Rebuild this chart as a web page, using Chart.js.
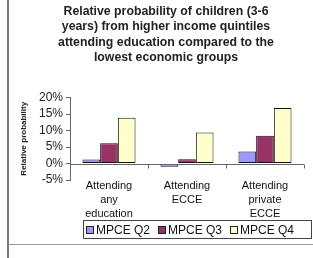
<!DOCTYPE html>
<html><head><meta charset="utf-8">
<script src="https://cdn.jsdelivr.net/npm/chart.js@4"></script>
<style>
html,body{margin:0;padding:0;background:#fff;}
#wrap{position:relative;width:313px;height:258px;overflow:hidden;}
#vl{position:absolute;left:7px;top:0;width:2px;height:258px;background:#7a7a7a;}
#hl{position:absolute;left:9px;top:244px;width:304px;height:1px;background:#999;}
#c{position:absolute;left:0;top:0;}
#legend{position:absolute;left:83px;top:220px;width:229px;height:19px;border:1px solid #444;
  display:flex;align-items:center;font-family:"Liberation Sans",Arial,sans-serif;font-size:12px;color:#111;box-sizing:border-box;padding-left:2px;}
#legend .it{display:flex;align-items:center;margin-right:8px;white-space:nowrap;}
#legend .sw{width:6px;height:6px;border:1px solid #222;margin-right:2px;}
</style></head>
<body>
<div id="wrap">
<canvas id="c" width="313" height="258"></canvas>
<div id="vl"></div><div id="hl"></div>
<div id="legend"></div>
</div>
<script>
const titleLines = ["Relative probability of children (3-6", "years) from higher income quintiles", "attending education compared to the", "lowest economic groups"];
const categories = [["Attending","any","education"],["Attending","ECCE"],["Attending","private","ECCE"]];
const seriesNames = ["MPCE Q2","MPCE Q3","MPCE Q4"];
const seriesColors = ["#9999FF","#993366","#FFFFCC"];
const q2 = [1.2, -1.0, 3.6];
const q3 = [6.1, 1.3, 8.4];
const q4 = [13.9, 9.4, 16.8];
const yTicks = [-5, 0, 5, 10, 15, 20];
const yTitle = "Relative probability";

const values = [q2, q3, q4];
const FONT = "'Liberation Sans', Arial, sans-serif";

const axisPlugin = {
  id: 'axisPlugin',
  afterDatasetsDraw(chart) {
    const x = chart.scales.x, y = chart.scales.y, ctx = chart.ctx;
    const y0 = Math.round(y.getPixelForValue(0)) + 0.5;
    ctx.save();
    ctx.strokeStyle = '#666';
    ctx.lineWidth = 1;
    ctx.beginPath();
    ctx.moveTo(x.left, y0); ctx.lineTo(x.right, y0);
    const n = categories.length;
    const w = (x.right - x.left) / n;
    for (let i = 1; i <= n; i++) {
      const xb = Math.round(x.getPixelForValue(i - 1) + w / 2) + 0.5;
      ctx.moveTo(xb, y0); ctx.lineTo(xb, y0 + 4);
    }
    ctx.stroke();
    ctx.restore();
  }
};

new Chart(document.getElementById('c'), {
  type: 'bar',
  data: {
    labels: categories,
    datasets: seriesNames.map((n, i) => ({
      label: n, data: values[i], backgroundColor: seriesColors[i],
      borderColor: '#111', borderWidth: 1, borderSkipped: false,
      categoryPercentage: 0.68, barPercentage: 1
    }))
  },
  options: {
    responsive: false, animation: false, devicePixelRatio: 1,
    layout: { padding: { left: 19, right: 0, top: 0, bottom: 37 } },
    plugins: {
      legend: { display: false },
      tooltip: { enabled: false },
      title: {
        display: true, text: titleLines, color: '#222',
        font: { family: FONT, size: 12.3, weight: 'bold', lineHeight: 1.25 },
        padding: { top: 4, bottom: 32 }
      }
    },
    scales: {
      x: {
        grid: { display: false }, border: { display: false },
        afterFit: s => { s.height = 41; },
        ticks: { font: { family: FONT, size: 11, lineHeight: 1.27 }, color: '#111', padding: -9, maxRotation: 0, autoSkip: false }
      },
      y: {
        min: -5, max: 20,
        afterBuildTicks: s => { s.ticks = yTicks.map(v => ({ value: v })); },
        afterFit: s => { s.width = 51; },
        ticks: { font: { family: FONT, size: 12 }, color: '#222', padding: 3, autoSkip: false, callback: v => v + '%' },
        grid: { drawOnChartArea: false, tickLength: 4, tickColor: '#666' },
        border: { color: '#666' },
        title: { display: true, text: yTitle, color: '#222', font: { family: FONT, size: 8, weight: 'bold' }, padding: { top: 0, bottom: 0 } }
      },
      yr: {
        type: 'linear', position: 'right', display: true,
        grid: { display: false }, border: { display: false }, ticks: { display: false },
        afterFit: s => { s.width = 9; }
      }
    }
  },
  plugins: [axisPlugin]
});

const lg = document.getElementById('legend');
seriesNames.forEach((n, i) => {
  const it = document.createElement('span'); it.className = 'it';
  const sw = document.createElement('span'); sw.className = 'sw'; sw.style.background = seriesColors[i];
  const tx = document.createElement('span'); tx.textContent = n;
  it.appendChild(sw); it.appendChild(tx); lg.appendChild(it);
});
</script>
</body></html>
